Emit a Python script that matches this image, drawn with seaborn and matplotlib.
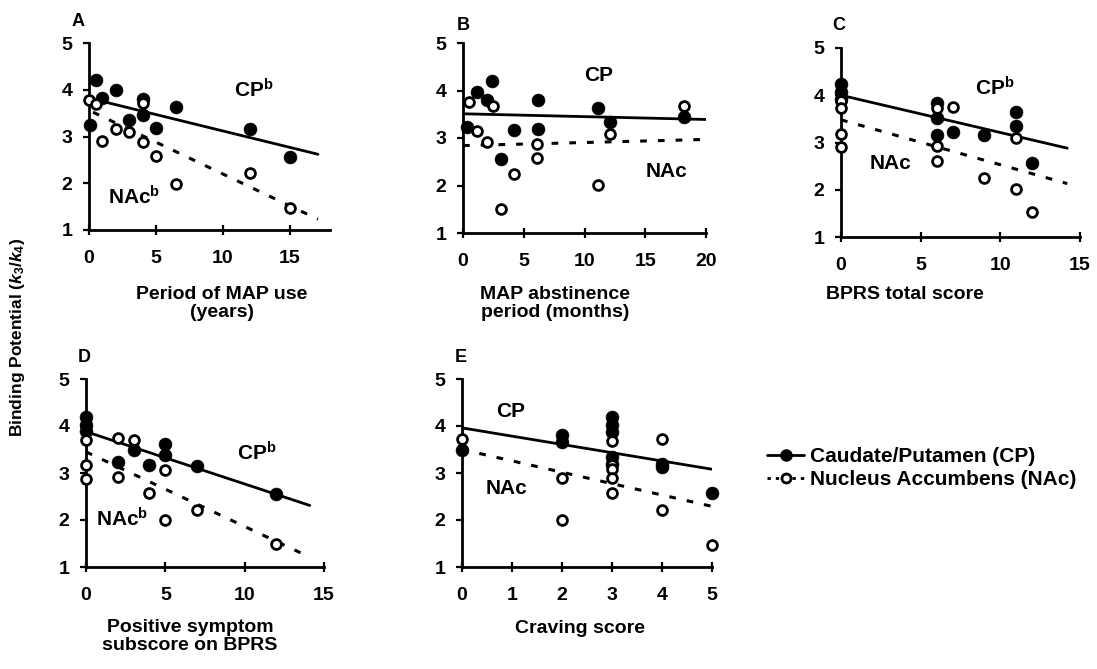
import matplotlib
matplotlib.use("Agg")
import matplotlib.pyplot as plt
import seaborn as sns
import pandas as pd
from matplotlib.lines import Line2D

sns.set_theme(style="ticks")
plt.rcParams['font.family'] = ['Liberation Sans', 'DejaVu Sans']
plt.rcParams['mathtext.fontset'] = 'custom'
plt.rcParams['mathtext.rm'] = 'Liberation Sans:bold'
plt.rcParams['mathtext.it'] = 'Liberation Sans:bold:italic'
plt.rcParams['mathtext.bf'] = 'Liberation Sans:bold'
plt.rcParams['text.color'] = 'black'
plt.rcParams['axes.labelcolor'] = 'black'
plt.rcParams['xtick.color'] = 'black'
plt.rcParams['ytick.color'] = 'black'

# ---------------- data ----------------
# Panel A: period of MAP use (years)
a_cp_x = [0.05, 0.5, 1.0, 2.0, 3.0, 4.0, 4.0, 5.0, 6.5, 12.0, 15.0]
a_cp_y = [3.24, 4.20, 3.83, 3.99, 3.36, 3.81, 3.46, 3.18, 3.63, 3.15, 2.57]
a_nac_x = [0.0, 0.5, 1.0, 2.0, 3.0, 4.0, 4.0, 5.0, 6.5, 12.0, 15.0]
a_nac_y = [3.79, 3.69, 2.91, 3.17, 3.09, 2.89, 3.72, 2.58, 1.99, 2.22, 1.46]
a_fit_x = [0.3, 17.1]
a_cp_fit = [3.80, 2.62]
a_nac_fit = [3.52, 1.23]

# Panel B: MAP abstinence period (months)
b_cp_x = [0.36, 1.15, 2.0, 2.4, 3.16, 4.2, 6.2, 6.2, 11.15, 12.1, 18.2]
b_cp_y = [3.23, 3.97, 3.79, 4.19, 2.56, 3.16, 3.79, 3.18, 3.63, 3.33, 3.44]
b_nac_x = [0.47, 1.15, 2.0, 2.5, 3.1, 4.2, 6.1, 6.1, 11.1, 12.1, 18.2]
b_nac_y = [3.75, 3.15, 2.91, 3.68, 1.51, 2.24, 2.88, 2.58, 2.01, 3.08, 3.68]
b_fit_x = [0.0, 20.0]
b_cp_fit = [3.51, 3.39]
b_nac_fit = [2.84, 2.97]

# Panel C: BPRS total score
c_cp_x = [0, 0, 0, 6, 6, 6, 7, 9, 11, 11, 12]
c_cp_y = [4.23, 4.07, 3.92, 3.83, 3.51, 3.16, 3.23, 3.16, 3.64, 3.35, 2.57]
c_nac_x = [0, 0, 0, 0, 6, 6, 6, 7, 9, 11, 11, 12]
c_nac_y = [3.88, 3.72, 3.19, 2.91, 3.72, 2.93, 2.60, 3.76, 2.24, 3.09, 2.01, 1.52]
c_fit_x = [0.0, 14.2]
c_cp_fit = [4.00, 2.88]
c_nac_fit = [3.48, 2.13]

# Panel D: positive symptom subscore on BPRS
d_cp_x = [0, 0, 0, 2, 3, 4, 5, 5, 7, 12]
d_cp_y = [4.20, 4.02, 3.90, 3.24, 3.49, 3.18, 3.61, 3.38, 3.15, 2.56]
d_nac_x = [0, 0, 0, 2, 3, 2, 4, 5, 5, 7, 12]
d_nac_y = [3.70, 3.17, 2.88, 3.75, 3.70, 2.92, 2.58, 3.07, 1.99, 2.22, 1.48]
d_fit_x = [0.0, 14.1]
d_cp_fit = [3.88, 2.31]
d_nac_fit = [3.45, 1.21]

# Panel E: craving score
e_cp_x = [0, 2, 2, 3, 3, 3, 3, 3, 4, 4, 5]
e_cp_y = [3.50, 3.80, 3.65, 4.20, 4.03, 3.88, 3.35, 3.20, 3.20, 3.12, 2.57]
e_nac_x = [0, 2, 2, 3, 3, 3, 3, 3, 4, 4, 5]
e_nac_y = [3.72, 2.90, 1.99, 3.69, 3.17, 3.09, 2.89, 2.58, 3.73, 2.22, 1.47]
e_fit_x = [0.0, 5.0]
e_cp_fit = [3.96, 3.08]
e_nac_fit = [3.50, 2.29]

x_labels = ["Period of MAP use\n(years)", "MAP abstinence\nperiod (months)",
            "BPRS total score", "Positive symptom\nsubscore on BPRS", "Craving score"]
panel_letters = ["A", "B", "C", "D", "E"]
x_ticks = [[0, 5, 10, 15], [0, 5, 10, 15, 20], [0, 5, 10, 15], [0, 5, 10, 15], [0, 1, 2, 3, 4, 5]]
x_limits = [(0, 18), (0, 20), (0, 15), (0, 15), (0, 5)]
y_ticks = [1, 2, 3, 4, 5]
cp_labels = [r"CP$^{\rm b}$", "CP", r"CP$^{\rm b}$", r"CP$^{\rm b}$", "CP"]
nac_labels = [r"NAc$^{\rm b}$", "NAc", "NAc", r"NAc$^{\rm b}$", "NAc"]
cp_label_pos = [(10.8, 4.0), (10.0, 4.31), (8.4, 4.16), (9.5, 3.42), (0.69, 4.3)]
nac_label_pos = [(1.4, 1.71), (15.0, 2.3), (1.8, 2.56), (0.6, 2.03), (0.47, 2.67)]
legend_labels = ["Caudate/Putamen (CP)", "Nucleus Accumbens (NAc)"]

panels = [
    (a_cp_x, a_cp_y, a_nac_x, a_nac_y, a_fit_x, a_cp_fit, a_nac_fit),
    (b_cp_x, b_cp_y, b_nac_x, b_nac_y, b_fit_x, b_cp_fit, b_nac_fit),
    (c_cp_x, c_cp_y, c_nac_x, c_nac_y, c_fit_x, c_cp_fit, c_nac_fit),
    (d_cp_x, d_cp_y, d_nac_x, d_nac_y, d_fit_x, d_cp_fit, d_nac_fit),
    (e_cp_x, e_cp_y, e_nac_x, e_nac_y, e_fit_x, e_cp_fit, e_nac_fit),
]

# ---------------- layout ----------------
W, H = 1097, 669
fig = plt.figure(figsize=(W / 100, H / 100), dpi=100)

def px_axes(left, top, right, bottom):
    return fig.add_axes([left / W, 1 - bottom / H, (right - left) / W, (bottom - top) / H])

boxes = [(89, 43, 330, 230), (463, 43, 706, 233), (841, 48, 1080, 237),
         (86, 379, 324, 567), (462, 379, 712, 567)]
letter_pos = [(72, 22), (457, 25), (832, 25), (78, 357), (455, 357)]
xlabel_centers = [222, 555, 905, 190, 580]
xlabel_tops = [286, 286, 286, 619, 620]

dash = (0, (2.2, 3.6))
for i, (box, data) in enumerate(zip(boxes, panels)):
    ax = px_axes(*box)
    cx, cy, nx, ny, fx, fcp, fnac = data
    df_cp = pd.DataFrame({"x": cx, "y": cy})
    df_nac = pd.DataFrame({"x": nx, "y": ny})
    df_fit = pd.DataFrame({"x": fx, "cp": fcp, "nac": fnac})
    sns.lineplot(data=df_fit, x="x", y="cp", ax=ax, color="black", lw=2.0, zorder=2)
    sns.lineplot(data=df_fit, x="x", y="nac", ax=ax, color="black", lw=2.2,
                 linestyle=dash, zorder=2)
    sns.scatterplot(data=df_cp, x="x", y="y", ax=ax, s=85, color="black",
                    edgecolor="black", linewidth=0.5, zorder=3, clip_on=False)
    sns.scatterplot(data=df_nac, x="x", y="y", ax=ax, s=50, facecolor="white",
                    edgecolor="black", linewidth=2.0, zorder=4, clip_on=False)
    ax.set_xlim(*x_limits[i])
    ax.set_ylim(1, 5)
    ax.set_xticks(x_ticks[i])
    ax.set_yticks(y_ticks)
    for s in ("top", "right"):
        ax.spines[s].set_visible(False)
    for s in ("left", "bottom"):
        ax.spines[s].set_linewidth(2.0)
        ax.spines[s].set_color("black")
    ax.tick_params(axis="x", direction="inout", length=7, width=1.6, pad=11,
                   labelsize=14, colors="black")
    ax.tick_params(axis="y", direction="out", length=4, width=1.6, pad=8,
                   labelsize=14, colors="black")
    for lab in ax.get_xticklabels() + ax.get_yticklabels():
        lab.set_fontweight("bold")
    ax.set_xlabel("")
    ax.set_ylabel("")
    ax.set_facecolor("none")
    ax.text(*cp_label_pos[i], cp_labels[i], fontsize=15, fontweight="bold",
            ha="left", va="center")
    ax.text(*nac_label_pos[i], nac_labels[i], fontsize=15, fontweight="bold",
            ha="left", va="center")
    lx, ly = letter_pos[i]
    fig.text(lx / W, 1 - ly / H, panel_letters[i], fontsize=13, fontweight="bold",
             ha="left", va="center")
    fig.text(xlabel_centers[i] / W, 1 - xlabel_tops[i] / H, x_labels[i], fontsize=14,
             fontweight="bold", ha="center", va="top", linespacing=1.05)

fig.text(18 / W, 1 - 337 / H, r"Binding Potential ($k_3$/$k_4$)", rotation=90,
         fontsize=12.5, fontweight="bold", ha="center", va="center")

handles = [
    Line2D([], [], color="black", lw=2.0, marker="o", markersize=8,
           markerfacecolor="black", markeredgecolor="black"),
    Line2D([], [], color="black", lw=2.0, linestyle=(0, (1.2, 1.8)), marker="o",
           markersize=6.5, markerfacecolor="white", markeredgecolor="black",
           markeredgewidth=2.0),
]
leg = fig.legend(handles, legend_labels, loc="center left",
                 bbox_to_anchor=(748 / W, 1 - 468 / H), frameon=False,
                 handlelength=1.8, handletextpad=0.3, labelspacing=0.2,
                 prop={"size": 15, "weight": "bold"})

fig.savefig("out.png", dpi=100, facecolor="white")
